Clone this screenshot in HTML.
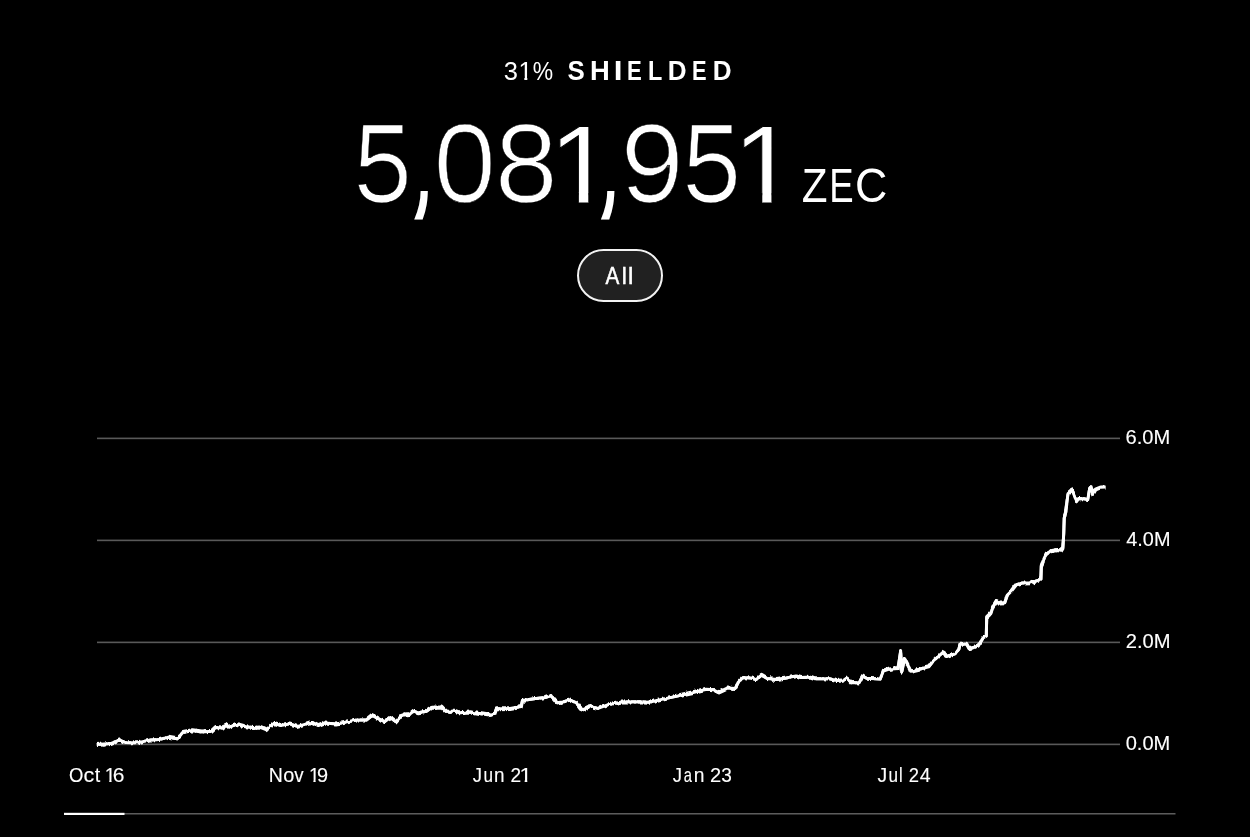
<!DOCTYPE html>
<html lang="en">
<head>
<meta charset="utf-8">
<title>Shielded Supply</title>
<style>
*{margin:0;padding:0;box-sizing:border-box}
html,body{width:1250px;height:837px;background:#000;overflow:hidden}
body{position:relative;font-family:"Liberation Sans",sans-serif;color:#fff}
/* whole-string labels */
.t{position:absolute;left:0;white-space:nowrap;line-height:1;transform-origin:0 0}
/* per-glyph fitted text: glyphs stay inline so each string reads as one run */
.gc{position:absolute;left:0;top:0;line-height:1;white-space:nowrap}
.g{display:inline-block;position:relative;vertical-align:top;transform-origin:0 0}
#pct{font-size:25.4px}
#shl{font-size:27.9px;font-weight:bold}
#zec{font-size:47.6px}
#allt{font-size:24.5px;-webkit-text-stroke:0.5px #fff}
.xl{font-size:19.8px;-webkit-text-stroke:0.12px #fff}
.yl{font-size:20px;-webkit-text-stroke:0.12px #fff}
/* hide the foot serif of the digit one */
.o{clip-path:polygon(0 0,100% 0,100% 69%,0.355em 69%,0.355em 100%,0.235em 100%,0.235em 69%,0 69%)}
.o1{clip-path:polygon(0 0,100% 0,100% 75%,calc(0.3398em - 0.5px) 75%,calc(0.3398em - 0.5px) 100%,calc(0.2515em + 0.5px) 100%,calc(0.2515em + 0.5px) 75%,0 75%)}
.cm{clip-path:inset(84.67% 0 0 0)}
.ex{filter:url(#ex)}
#pill{position:absolute;left:577px;top:249px;width:86px;height:53px;border:2px solid #f2f2f2;border-radius:27px;background:#212121}
svg{position:absolute;left:0;top:0}
</style>
</head>
<body>
<svg width="1250" height="837" viewBox="0 0 1250 837">
<defs>
<filter id="ex" x="-10%" y="-10%" width="120%" height="120%" color-interpolation-filters="sRGB"><feMorphology operator="erode" radius="1 0"/></filter>
<filter id="rough" x="0" y="0" width="100%" height="100%" filterUnits="userSpaceOnUse" color-interpolation-filters="sRGB">
<feTurbulence type="fractalNoise" baseFrequency="0.33 0.05" numOctaves="2" seed="7"/><feColorMatrix type="matrix" values="0 0 0 0 0.5  0 1 0 0 0  0 0 0 0 0  0 0 0 0 1" result="n1"/>
<feTurbulence type="fractalNoise" baseFrequency="0.29 0.05" numOctaves="2" seed="23"/><feColorMatrix type="matrix" values="0 0 0 0 0.5  0 1 0 0 0  0 0 0 0 0  0 0 0 0 1" result="n2"/>
<feDisplacementMap in="SourceGraphic" in2="n1" scale="5" xChannelSelector="R" yChannelSelector="G" result="d1"/>
<feDisplacementMap in="SourceGraphic" in2="n2" scale="5" xChannelSelector="R" yChannelSelector="G" result="d2"/>
<feMerge><feMergeNode in="d1"/><feMergeNode in="d2"/></feMerge></filter>
</defs>
<rect x="97" y="437" width="1023" height="1" fill="#262626"/><rect x="97" y="438" width="1023" height="1" fill="#595959"/><rect x="97" y="439" width="1023" height="1" fill="#101010"/>
<rect x="97" y="539" width="1023" height="1" fill="#262626"/><rect x="97" y="540" width="1023" height="1" fill="#595959"/><rect x="97" y="541" width="1023" height="1" fill="#101010"/>
<rect x="97" y="641" width="1023" height="1" fill="#262626"/><rect x="97" y="642" width="1023" height="1" fill="#595959"/><rect x="97" y="643" width="1023" height="1" fill="#101010"/>
<rect x="97" y="743" width="1023" height="1" fill="#262626"/><rect x="97" y="744" width="1023" height="1" fill="#595959"/><rect x="97" y="745" width="1023" height="1" fill="#101010"/>
<rect x="64" y="813" width="1111.5" height="1" fill="#5c5c5c"/><rect x="64" y="814" width="1111.5" height="1" fill="#303030"/>
<rect x="64" y="812.8" width="60.5" height="2.2" fill="#fff"/>
<polyline id="line" filter="url(#rough)" fill="none" stroke="#fff" stroke-width="3.0" stroke-linejoin="round" stroke-linecap="butt" points="96.8,744.4 110.8,743.6 119.6,739.9 125.2,742.5 138.0,742.8 150.8,739.9 158.8,739.6 168.4,737.2 177.2,738.8 182.8,732.4 192.4,730.8 202.0,731.9 211.6,731.3 215.6,727.6 222.8,728.1 225.7,724.4 229.2,727.1 236.4,724.4 243.6,726.5 253.2,727.6 259.6,727.1 266.0,729.7 274.0,723.3 280.4,725.5 289.6,724.0 297.6,726.4 312.0,722.4 318.4,725.6 324.8,722.9 336.0,724.0 347.2,721.9 356.8,720.0 366.4,720.0 372.0,715.5 377.6,718.4 384.8,721.6 390.4,717.6 396.0,721.9 401.6,715.2 409.6,714.4 413.6,711.2 418.4,712.8 426.4,711.2 432.0,707.2 441.6,706.9 445.6,711.2 454.4,711.2 459.2,712.8 470.4,712.0 479.6,713.5 487.6,714.8 494.8,713.2 496.4,708.7 510.0,708.4 521.2,706.5 522.5,700.4 534.0,698.8 545.2,697.5 550.8,695.6 557.2,702.8 562.8,702.0 570.0,700.0 576.4,702.8 580.4,708.4 583.6,709.7 590.0,706.5 598.0,708.4 607.6,704.9 622.0,702.0 639.6,701.7 649.2,702.3 660.4,699.6 676.0,696.4 692.0,692.9 706.4,689.2 714.4,689.7 719.2,691.9 727.2,688.1 735.2,688.4 738.4,682.0 743.2,677.5 751.2,678.0 756.0,679.6 761.6,675.3 767.2,678.5 776.8,679.6 786.4,678.0 796.0,675.9 800.8,677.5 810.4,677.2 815.2,678.8 829.6,678.8 836.0,680.4 844.0,680.1 847.2,678.0 851.2,682.8 859.0,682.7 862.8,676.1 866.6,678.2 880.1,679.1 883.3,671.2 888.4,669.3 898.0,668.6 900.6,651.4 901.8,671.2 904.4,658.4 907.0,663.5 910.8,671.2 919.1,669.3 928.7,666.7 933.2,661.0 943.4,652.0 946.0,656.5 955.0,653.9 958.8,649.4 960.1,644.3 966.5,644.3 969.0,648.8 978.0,646.2 983.1,637.9 986.3,636.0 986.7,617.6 990.9,613.6 992.9,607.1 996.8,600.5 999.4,603.1 1004.7,602.8 1007.3,595.2 1011.3,591.3 1016.5,584.7 1021.8,583.1 1031.0,582.7 1038.9,580.1 1040.9,578.1 1041.3,566.3 1044.1,558.4 1046.1,554.5 1050.7,550.8 1057.3,549.5 1061.2,550.3 1062.8,547.9 1063.7,534.5 1064.2,518.4 1065.8,510.9 1066.9,502.3 1068.0,493.7 1072.3,489.9 1074.4,495.8 1076.6,501.7 1078.7,498.5 1084.1,498.8 1087.8,499.6 1089.5,489.4 1091.1,487.7 1092.7,494.2 1095.9,488.8 1100.2,487.2 1105.6,487.0"/>
</svg>
<div class="gc " id="pct"><span class="g" id="p0" style="top:59px;transform:translate(503.64px,0) scaleX(1.0060);">3</span><span class="g o" id="p1" style="top:59px;transform:translate(504.41px,0) scaleX(0.9883);">1</span><span class="g" id="p2" style="top:59px;transform:translate(504.73px,0) scaleX(0.9026);">%</span></div>
<div class="gc " id="shl"><span class="g" id="s0" style="top:57px;transform:translate(567.60px,0) scaleX(0.9276);">S</span><span class="g" id="s1" style="top:57px;transform:translate(570.91px,0) scaleX(0.9810);">H</span><span class="g" id="s2" style="top:57px;transform:translate(574.65px,0) scaleX(1.1240);">I</span><span class="g" id="s3" style="top:57px;transform:translate(580.05px,0) scaleX(0.7925);">E</span><span class="g" id="s4" style="top:57px;transform:translate(582.94px,0) scaleX(0.8394);">L</span><span class="g" id="s5" style="top:57px;transform:translate(585.64px,0) scaleX(0.9344);">D</span><span class="g" id="s6" style="top:57px;transform:translate(590.08px,0) scaleX(0.7832);">E</span><span class="g" id="s7" style="top:57px;transform:translate(591.68px,0) scaleX(0.9347);">D</span></div>
<div class="gc" id="num"><span class="g ex" id="n0" style="top:108px;transform:translate(353.31px,0) scaleX(0.9518);font-size:111.6px;-webkit-text-stroke:0.4px #000">5</span><span class="g cm" id="n1" style="top:4px;transform:translate(339.67px,0) scaleX(0.6297);font-size:221px;-webkit-text-stroke:0px #000">,</span><span class="g ex" id="n2" style="top:108px;transform:translate(310.36px,0) scaleX(1.0103);font-size:112.0px;-webkit-text-stroke:0.4px #000">0</span><span class="g ex" id="n3" style="top:108px;transform:translate(308.62px,0) scaleX(1.0202);font-size:112.0px;-webkit-text-stroke:0.4px #000">8</span><span class="g o1" id="n4" style="top:109px;transform:translate(300.46px,0) scaleX(1.0625);font-size:111.8px;-webkit-text-stroke:1.0px #000">1</span><span class="g cm" id="n5" style="top:4px;transform:translate(278.60px,0) scaleX(0.6249);font-size:221px;-webkit-text-stroke:0px #000">,</span><span class="g ex" id="n6" style="top:108px;transform:translate(248.32px,0) scaleX(1.0244);font-size:112.0px;-webkit-text-stroke:0.4px #000">9</span><span class="g ex" id="n7" style="top:108px;transform:translate(248.02px,0) scaleX(0.9597);font-size:111.6px;-webkit-text-stroke:0.4px #000">5</span><span class="g o1" id="n8" style="top:109px;transform:translate(236.75px,0) scaleX(1.0320);font-size:111.8px;-webkit-text-stroke:1.0px #000">1</span></div>
<div class="gc " id="zec"><span class="g" id="z0" style="top:162px;transform:translate(801.73px,0) scaleX(0.8861);">Z</span><span class="g" id="z1" style="top:162px;transform:translate(800.16px,0) scaleX(0.7677);">E</span><span class="g" id="z2" style="top:162px;transform:translate(794.11px,0) scaleX(0.9406);">C</span></div>
<div id="pill"></div>
<div class="gc " id="allt"><span class="g" id="a0" style="top:264px;transform:translate(605.45px,0) scaleX(0.8434);">A</span><span class="g" id="a1" style="top:264px;transform:translate(605.68px,0) scaleX(0.9221);">l</span><span class="g" id="a2" style="top:264px;transform:translate(605.99px,0) scaleX(0.9910);">l</span></div>
<div class="gc xl" id="x0"><span class="g" id="x0g0" style="top:766px;transform:translate(69.09px,0) scaleX(0.9335);">O</span><span class="g" id="x0g1" style="top:766px;transform:translate(68.59px,0) scaleX(1.0843);">c</span><span class="g" id="x0g2" style="top:766px;transform:translate(69.65px,0) scaleX(0.9994);">t</span> <span class="g o" id="x0g4" style="top:766px;transform:translate(68.70px,0) scaleX(0.9786);">1</span><span class="g" id="x0g5" style="top:766px;transform:translate(65.80px,0) scaleX(1.0625);">6</span></div>
<div class="gc xl" id="x1"><span class="g" id="x1g0" style="top:766px;transform:translate(268.69px,0) scaleX(0.9877);">N</span><span class="g" id="x1g1" style="top:766px;transform:translate(269.21px,0) scaleX(1.0061);">o</span><span class="g" id="x1g2" style="top:766px;transform:translate(269.13px,0) scaleX(0.9474);">v</span> <span class="g o" id="x1g4" style="top:766px;transform:translate(267.89px,0) scaleX(0.9629);">1</span><span class="g" id="x1g5" style="top:766px;transform:translate(265.00px,0) scaleX(1.0079);">9</span></div>
<div class="gc xl" id="x2"><span class="g" id="x2g0" style="top:766px;transform:translate(472.69px,0) scaleX(0.9369);">J</span><span class="g" id="x2g1" style="top:766px;transform:translate(473.53px,0) scaleX(0.8663);">u</span><span class="g" id="x2g2" style="top:766px;transform:translate(473.07px,0) scaleX(0.9567);">n</span> <span class="g" id="x2g4" style="top:766px;transform:translate(473.40px,0) scaleX(0.9663);">2</span><span class="g o" id="x2g5" style="top:766px;transform:translate(471.43px,0) scaleX(1.1212);">1</span></div>
<div class="gc xl" id="x3"><span class="g" id="x3g0" style="top:766px;transform:translate(672.69px,0) scaleX(0.9369);">J</span><span class="g" id="x3g1" style="top:766px;transform:translate(673.82px,0) scaleX(0.7444);">a</span><span class="g" id="x3g2" style="top:766px;transform:translate(672.65px,0) scaleX(0.9736);">n</span> <span class="g" id="x3g4" style="top:766px;transform:translate(673.04px,0) scaleX(1.0167);">2</span><span class="g" id="x3g5" style="top:766px;transform:translate(673.31px,0) scaleX(0.9640);">3</span></div>
<div class="gc xl" id="x4"><span class="g" id="x4g0" style="top:766px;transform:translate(877.42px,0) scaleX(0.9762);">J</span><span class="g" id="x4g1" style="top:766px;transform:translate(878.53px,0) scaleX(0.8663);">u</span><span class="g" id="x4g2" style="top:766px;transform:translate(878.05px,0) scaleX(0.8315);">l</span> <span class="g" id="x4g4" style="top:766px;transform:translate(877.65px,0) scaleX(0.9311);">2</span><span class="g" id="x4g5" style="top:766px;transform:translate(877.68px,0) scaleX(0.9855);">4</span></div>
<div class="t yl" id="y0" style="top:427px;transform:translate(1125.52px,0) scaleX(1.0063)">6.0M</div>
<div class="t yl" id="y1" style="top:529px;transform:translate(1126.24px,0) scaleX(0.9946)">4.0M</div>
<div class="t yl" id="y2" style="top:631px;transform:translate(1125.68px,0) scaleX(1.0081)">2.0M</div>
<div class="t yl" id="y3" style="top:733px;transform:translate(1125.70px,0) scaleX(1.0039)">0.0M</div>
</body>
</html>
